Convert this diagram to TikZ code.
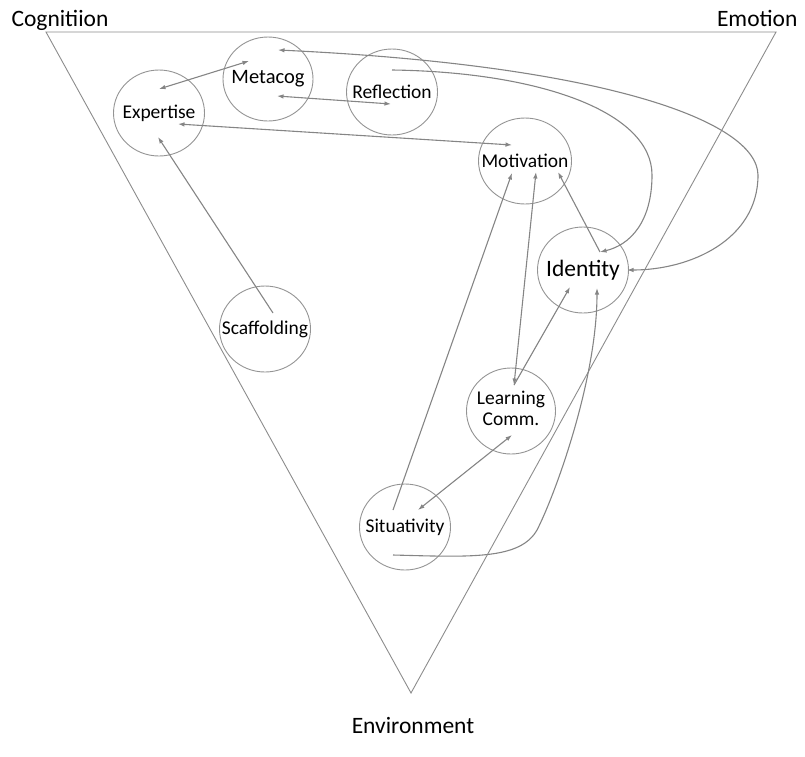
\documentclass[tikz,border=0pt]{standalone}
\usepackage{fontspec}
\setmainfont{Carlito}
\usetikzlibrary{shapes.geometric,arrows.meta,calc}
% centre a label without letting it widen the ellipse around it
\newcommand{\nodetext}[1]{\makebox[0pt][c]{#1}}

\begin{document}
\begin{tikzpicture}[x=1pt,y=-1pt,
  >={Latex[length=6.5pt,width=4.5pt]},
  bubble/.style={ellipse, draw=black!42, line width=0.9pt,
    minimum width=91pt, minimum height=86pt, inner sep=0pt,
    font=\fontsize{19.5}{21}\selectfont},
  link/.style={draw=black!48, line width=1.1pt},
  frame/.style={draw=black!45, line width=0.9pt},
  corner/.style={font=\fontsize{23.5}{26}\selectfont}]

\useasboundingbox (0,0) rectangle (805,756);

% the three poles
\draw[frame] (46,32) -- (776,32) -- (411,693) -- cycle;
\node[corner, anchor=base west] (cog) at (8,26) {Cognitiion};
\node[corner, anchor=base east] (emo) at (801,26) {Emotion};
\node[corner, anchor=base] (env) at (413,733) {Environment};

% concepts
\node[bubble, minimum width=90pt, minimum height=84pt] (meta) at (268,79)
  {\nodetext{\fontsize{20.5}{22}\selectfont Metacog}};
\node[bubble] (exp) at (159,113) {\nodetext{Expertise}};
\node[bubble] (refl) at (392,92) {\nodetext{Reflection}};
\node[bubble, minimum width=93pt] (motiv) at (525,161) {\nodetext{Motivation}};
\node[bubble] (ident) at (583,270) {\nodetext{\fontsize{23.5}{26}\selectfont Identity}};
\node[bubble] (scaf) at (265,329) {\nodetext{Scaffolding}};
\node[bubble, minimum width=89pt] (lc) at (511,411)
  {\nodetext{\begin{tabular}{@{}c@{}}Learning\\Comm.\end{tabular}}};
\node[bubble] (sit) at (405,527) {\nodetext{Situativity}};

% straight links
\draw[link,<->] ($(exp)+(0,-24)$) -- ($(meta)+(-19,-18)$);
\draw[link,<->] ($(meta)+(9,17)$) -- ($(refl)+(-1,12)$);
\draw[link,<->] ($(exp)+(19,11)$) -- ($(motiv)+(-13,-16)$);
\draw[link,->] ($(ident)+(17,-18)$) -- ($(motiv)+(33,11)$);
\draw[link,->] ($(sit)+(-12,-17)$) -- ($(motiv)+(-13,12)$);
\draw[link,<->] ($(lc)+(3,-26)$) -- ($(motiv)+(11,11)$);
\draw[link,->] ($(lc)+(3,-26)$) -- ($(ident)+(-13,17)$);
\draw[link,<->] ($(sit)+(13,-17)$) -- ($(lc)+(1,24)$);
\draw[link,->] ($(scaf)+(8,-16)$) -- ($(exp)+(-1,24)$);

% long curved links
\draw[link,<->] ($(meta)+(10,-29)$) .. controls (600,65) and (757,120) .. (758,175)
  .. controls (758,240) and (690,270) .. ($(ident)+(44,0)$);
\draw[link,->] ($(refl)+(0,-22)$) .. controls (540,72) and (652,112) .. (652,175)
  .. controls (652,222) and (630,245) .. ($(ident)+(17,-18)$);
\draw[link,->] ($(sit)+(-12,28)$) .. controls (470,557) and (520,560) .. (537,530)
  .. controls (555,495) and (597,380) .. ($(ident)+(14,18)$);

\end{tikzpicture}
\end{document}
